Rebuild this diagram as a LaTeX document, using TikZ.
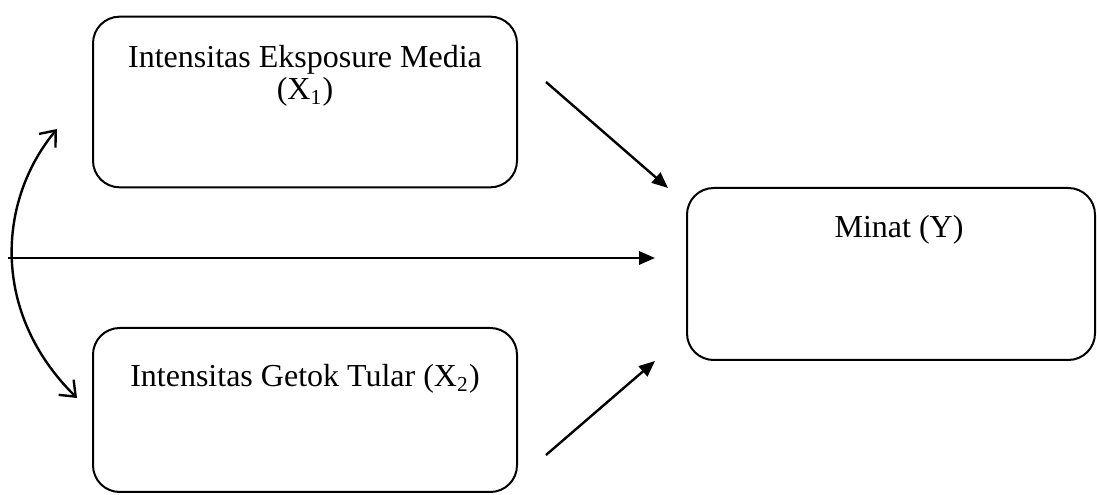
\documentclass[tikz,border=0pt]{standalone}
\usepackage{fontspec}
\setmainfont{Liberation Serif}
\usepackage{tikz}
\usetikzlibrary{calc}
\usetikzlibrary{positioning}
\usetikzlibrary{arrows.meta}

\tikzset{
    varbox/.style={draw, rounded corners=10pt, line width=0.75pt, minimum width=159pt},
    boxtext/.style={anchor=north, align=center, inner sep=0pt, font=\fontsize{12}{12}\selectfont},
    solidarrow/.style={line width=0.9pt, -{Triangle[length=6pt,width=5pt]}},
    openarrow/.style={line width=0.9pt, {Straight Barb[length=5pt,width=8pt]}-{Straight Barb[length=5pt,width=8pt]}}
}

\begin{document}
\begin{tikzpicture}[x=0.375pt, y=-0.375pt]
        \useasboundingbox (0,0) rectangle (1097,495);
        % kotak variabel
        \node (media) at (305,102) [varbox, minimum height=64pt] {};
        \node (getok) at (305,410) [varbox, minimum height=61.5pt] {};
        \node (minat) at (891,274) [varbox, minimum width=153pt, minimum height=64.5pt] {};
        \node (mediatext) at (305,45) [boxtext] {Intensitas Eksposure Media\\(X\textsubscript{1})};
        \node (getoktext) at (305,364) [boxtext] {Intensitas Getok Tular (X\textsubscript{2})};
        \node (minattext) at (899,215) [boxtext] {Minat (Y)};
        % ujung panah
        \coordinate (a1) at (546,82);
        \coordinate (b1) at (668,188);
        \coordinate (a2) at (546,455);
        \coordinate (b2) at (655,361);
        \coordinate (a3) at (8,258);
        \coordinate (b3) at (655,258);
        \coordinate (c1) at (57,129);
        \coordinate (c2) at (77,398);
        \draw (a1) [solidarrow] -- (b1);
        \draw (a2) [solidarrow] -- (b2);
        \draw (a3) [solidarrow] -- (b3);
        \draw (c1) [openarrow] .. controls (-2,200) and (-10,312) .. (c2);
    \end{tikzpicture}
\end{document}
